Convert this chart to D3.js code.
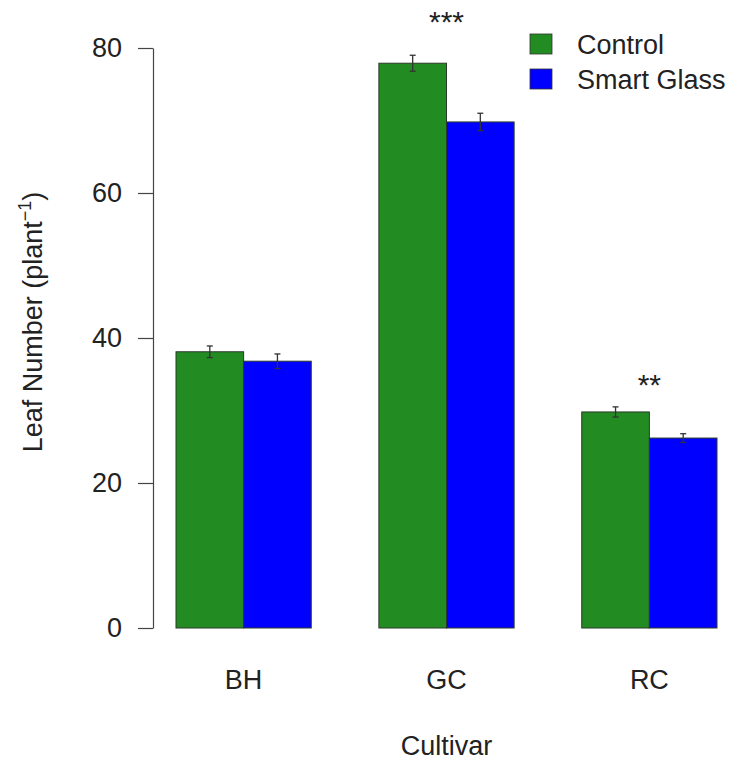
<!DOCTYPE html>
<html>
<head>
<meta charset="utf-8">
<script src="https://cdn.jsdelivr.net/npm/d3@7"></script>
<style>
body { margin: 0; background: #fff; }
text { font-family: "Liberation Sans", Arial, sans-serif; fill: #222; }
</style>
</head>
<body>
<div id="chart"></div>
<script>
// data
var cultivars = ["BH", "GC", "RC"];
var treatments = ["Control", "Smart Glass"];
var control = [38.1, 77.9, 29.8];
var smartGlass = [36.8, 69.8, 26.2];
var controlSE = [0.8, 1.1, 0.7];
var smartGlassSE = [1.0, 1.2, 0.6];
var stars = ["", "***", "**"];
var starY = [0, 82.2, 32.1];
var yTicks = [0, 20, 40, 60, 80];
var colors = ["#228b22", "#0000ff"];

var W = 731, H = 761;
var svg = d3.select("#chart").append("svg")
    .attr("width", W).attr("height", H);

var y = d3.scaleLinear().domain([0, 80]).range([628, 48]);
var x0 = d3.scaleBand().domain(cultivars).range([176, 717])
    .paddingInner(1 / 3).paddingOuter(0);
var x1 = d3.scaleBand().domain(treatments).range([0, x0.bandwidth()]);

var rows = [];
cultivars.forEach(function (c, i) {
    rows.push({cult: c, trt: treatments[0], v: control[i], se: controlSE[i], col: colors[0]});
    rows.push({cult: c, trt: treatments[1], v: smartGlass[i], se: smartGlassSE[i], col: colors[1]});
});

// bars
svg.selectAll("rect.bar")
    .data(rows)
    .enter()
    .append("rect")
    .attr("class", "bar")
    .attr("x", function (d) { return x0(d.cult) + x1(d.trt); })
    .attr("y", function (d) { return y(d.v); })
    .attr("width", x1.bandwidth())
    .attr("height", function (d) { return y(0) - y(d.v); })
    .attr("fill", function (d) { return d.col; })
    .attr("stroke", "#2a3a2a")
    .attr("stroke-width", 1);

// error bars
var eb = svg.selectAll("g.err")
    .data(rows)
    .enter()
    .append("g")
    .attr("class", "err")
    .attr("stroke", "#333")
    .attr("stroke-width", 1.3);
eb.append("line")
    .attr("x1", function (d) { return x0(d.cult) + x1(d.trt) + x1.bandwidth() / 2; })
    .attr("x2", function (d) { return x0(d.cult) + x1(d.trt) + x1.bandwidth() / 2; })
    .attr("y1", function (d) { return y(d.v - d.se); })
    .attr("y2", function (d) { return y(d.v + d.se); });
[1, -1].forEach(function (s) {
    eb.append("line")
        .attr("x1", function (d) { return x0(d.cult) + x1(d.trt) + x1.bandwidth() / 2 - 3; })
        .attr("x2", function (d) { return x0(d.cult) + x1(d.trt) + x1.bandwidth() / 2 + 3; })
        .attr("y1", function (d) { return y(d.v + s * d.se); })
        .attr("y2", function (d) { return y(d.v + s * d.se); });
});

// y axis
var yAxis = svg.append("g")
    .attr("transform", "translate(153,0)")
    .call(d3.axisLeft(y).tickValues(yTicks).tickSize(15).tickSizeOuter(0).tickPadding(16));
yAxis.select(".domain").attr("stroke", "#444").attr("stroke-width", 1.2);
yAxis.selectAll(".tick line").attr("stroke", "#444").attr("stroke-width", 1.2);
yAxis.selectAll(".tick text")
    .attr("font-size", 27)
    .attr("font-family", "Liberation Sans, Arial, sans-serif")
    .attr("fill", "#222");

// y label
var yl = svg.append("text")
    .attr("transform", "translate(42,322) rotate(-90)")
    .attr("text-anchor", "middle")
    .attr("font-size", 27);
yl.append("tspan").text("Leaf Number (plant");
yl.append("tspan").attr("font-size", 18).attr("dy", -11).text("\u22121");
yl.append("tspan").attr("dy", 11).text(")");

// x category labels
svg.selectAll("text.cat")
    .data(cultivars)
    .enter()
    .append("text")
    .attr("class", "cat")
    .attr("x", function (d) { return x0(d) + x0.bandwidth() / 2; })
    .attr("y", 689)
    .attr("text-anchor", "middle")
    .attr("font-size", 27)
    .text(function (d) { return d; });

svg.append("text")
    .attr("x", x0("GC") + x0.bandwidth() / 2)
    .attr("y", 755)
    .attr("text-anchor", "middle")
    .attr("font-size", 27)
    .text("Cultivar");

// significance stars
svg.selectAll("text.star")
    .data(cultivars)
    .enter()
    .append("text")
    .attr("class", "star")
    .attr("x", function (d) { return x0(d) + x0.bandwidth() / 2; })
    .attr("y", function (d, i) { return y(starY[i]); })
    .attr("text-anchor", "middle")
    .attr("font-size", 30)
    .text(function (d, i) { return stars[i]; });

// legend
var lg = svg.selectAll("g.leg")
    .data(treatments)
    .enter()
    .append("g")
    .attr("class", "leg")
    .attr("transform", function (d, i) { return "translate(530," + (34 + i * 35) + ")"; });
lg.append("rect")
    .attr("width", 22).attr("height", 20)
    .attr("fill", function (d, i) { return colors[i]; })
    .attr("stroke", "#333").attr("stroke-width", 0.8);
lg.append("text")
    .attr("x", 47).attr("y", 20)
    .attr("font-size", 27)
    .text(function (d) { return d; });
</script>
</body>
</html>
